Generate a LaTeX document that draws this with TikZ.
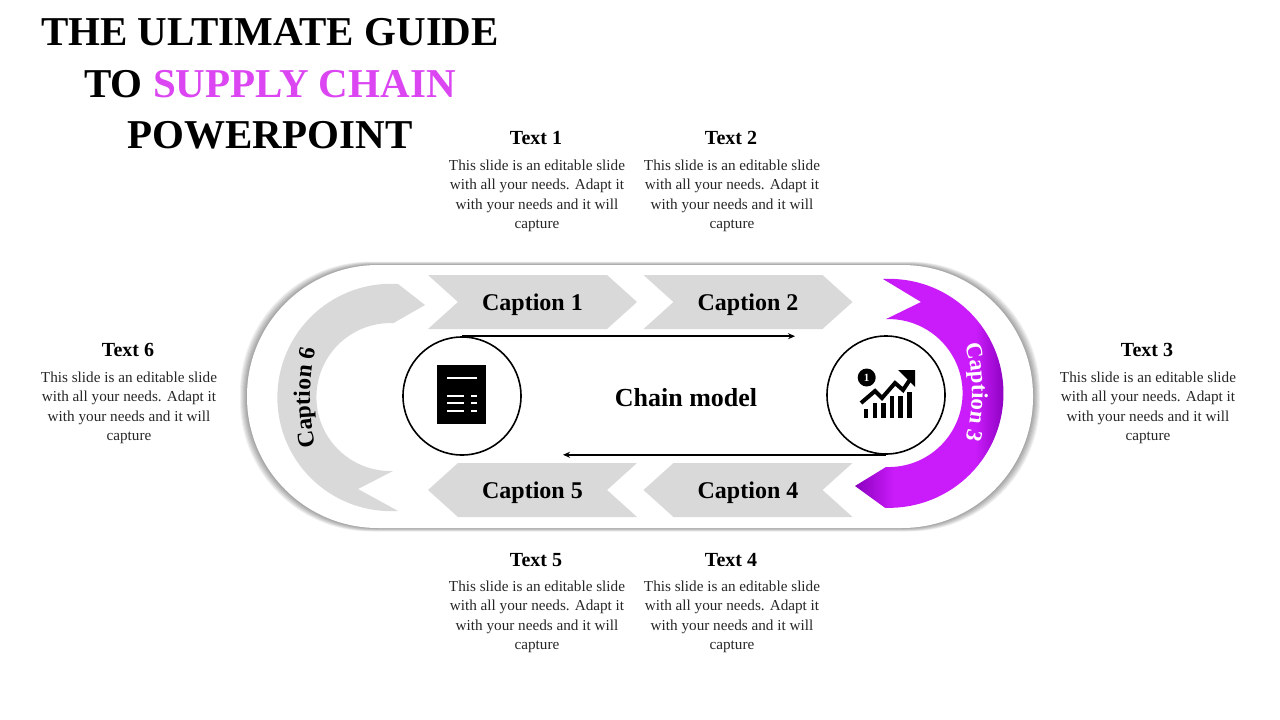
\documentclass[tikz,border=0pt]{standalone}
\usepackage{fontspec}
\setmainfont{Liberation Serif}
\usepackage{tikz}
\usetikzlibrary{shapes.symbols, arrows.meta, decorations.text}
\definecolor{chipgray}{HTML}{D9D9D9}
\definecolor{brightviolet}{HTML}{CA1CFA}
\definecolor{darkviolet}{HTML}{8A00BE}
\definecolor{titleviolet}{HTML}{DB46F2}
\pgfdeclarehorizontalshading{violetband}{100bp}{
  color(0bp)=(darkviolet); color(25bp)=(darkviolet); color(38bp)=(brightviolet);
  color(65bp)=(brightviolet); color(75bp)=(darkviolet); color(100bp)=(darkviolet)}
\newcommand{\slidetext}{This slide is an editable slide\\with all your needs. Adapt it\\with your needs and it will\\capture}
\begin{document}
\begin{tikzpicture}[
          x=1pt, y=-1pt,
          chipright/.style={signal, signal from=west, signal to=east, signal pointer angle=84,
                      fill=chipgray, minimum width=209pt, minimum height=54pt, inner sep=0pt,
                      outer sep=0pt, text depth=0pt, font=\fontsize{24}{28}\selectfont\bfseries},
          chipleft/.style={chipright, signal from=east, signal to=west},
          head/.style={text depth=0pt, font=\fontsize{20}{24}\selectfont\bfseries},
          body/.style={align=center, text=black!85, font=\fontsize{15.2}{19.5}\selectfont},
          ring/.style={circle, draw=black, line width=1.6pt, minimum size=118pt, fill=white},
          link/.style={draw=black, line width=1.5pt, -{Stealth[length=7pt, width=6pt]}},
          iconline/.style={white, line width=2.2pt}
        ]
          \useasboundingbox (0,0) rectangle (1280,720);
          % title
          \node[align=center, font=\fontsize{41}{51.5}\selectfont\bfseries] (title) at (270,84)
            {THE ULTIMATE GUIDE\\TO \textcolor{titleviolet}{SUPPLY CHAIN}\\POWERPOINT};
          % capsule with its soft edge
          \foreach \d in {1,...,7}
            \fill[black, opacity=0.06, rounded corners=131pt]
              (247-\d,265-0.5*\d) rectangle (1033+\d,528+0.5*\d);
          \fill[white, rounded corners=131pt] (247,265) rectangle (1033,528);
          % bands
          \fill[chipgray] (398,284) arc[start angle=-86.5, end angle=-273.5, radius=113.7]
            -- (358,489) -- (393,471) arc[start angle=88, end angle=272.3, radius=74] -- (425,305) -- cycle;
          \shade[shading=violetband] (883,279) arc[start angle=-93, end angle=92, radius=114.5]
            -- (855,486) -- (886,467) arc[start angle=92, end angle=-92, radius=74] -- (921,302) -- cycle;
          % chips
          \node[chipright] (cap1) at (532.5,302) {Caption 1};
          \node[chipright] (cap2) at (748,302) {Caption 2};
          \node[chipleft]  (cap4) at (748,490) {Caption 4};
          \node[chipleft]  (cap5) at (532.5,490) {Caption 5};
          % captions on the bands
          \path[decorate, decoration={text along path, text align=center,
              text={|\fontsize{23.5}{28}\selectfont\bfseries|Caption 6}}]
            (530,397.5) ++(163.5:220) arc[start angle=163.5, end angle=196.5, radius=220];
          \path[decorate, decoration={text along path, text align=center,
              text={|\color{white}\fontsize{23}{28}\selectfont\bfseries|Caption 3}}]
            (792,392) ++(-17:180) arc[start angle=-17, end angle=17, radius=180];
          % rings and links
          \node[ring] (sheet) at (462,396) {};
          \node[ring] (chart) at (886,395) {};
          \coordinate (linkend) at (795,336);
          \coordinate (backend) at (563,454);
          \draw[link] (sheet.north) -- (sheet.north -| linkend);
          \draw[link] (chart.south) -- (chart.south -| backend);
          \node[text depth=0pt, font=\fontsize{26}{30}\selectfont\bfseries] (model) at (686,397) {Chain model};
          % sheet icon
          \fill[black] (437,365) rectangle (486,424);
          \draw[iconline] (447,378) -- (477,378);
          \foreach \t in {396,403,411}
            \draw[iconline] (447,\t) -- (464,\t) (471,\t) -- (477,\t);
          % chart icon
          \fill[black] (866.7,377.5) circle[radius=9];
          \node[text=white, font=\fontsize{11}{11}\selectfont\bfseries, inner sep=0pt] (one) at (866.7,377.5) {1};
          \draw[black, line width=4pt] (861,403) -- (875,391) -- (882,398) -- (895,383) -- (903,390) -- (911,378);
          \fill[black] (898,370) -- (915,370) -- (915,387) -- cycle;
          \foreach \x/\t in {863.5/409, 872.5/403, 881/403, 889.5/396, 898/396, 907/392}
            \fill[black] (\x,\t) rectangle (\x+4.8,418);
          % texts
          \node[head] (head1) at (536,138) {Text 1};
          \node[body] (body1) at (537,196) {\slidetext};
          \node[head] (head2) at (731,138) {Text 2};
          \node[body] (body2) at (732,196) {\slidetext};
          \node[head] (head3) at (1147,350) {Text 3};
          \node[body] (body3) at (1148,408) {\slidetext};
          \node[head] (head4) at (731,560) {Text 4};
          \node[body] (body4) at (732,617) {\slidetext};
          \node[head] (head5) at (536,560) {Text 5};
          \node[body] (body5) at (537,617) {\slidetext};
          \node[head] (head6) at (128,350) {Text 6};
          \node[body] (body6) at (129,408) {\slidetext};
        \end{tikzpicture}
\end{document}
